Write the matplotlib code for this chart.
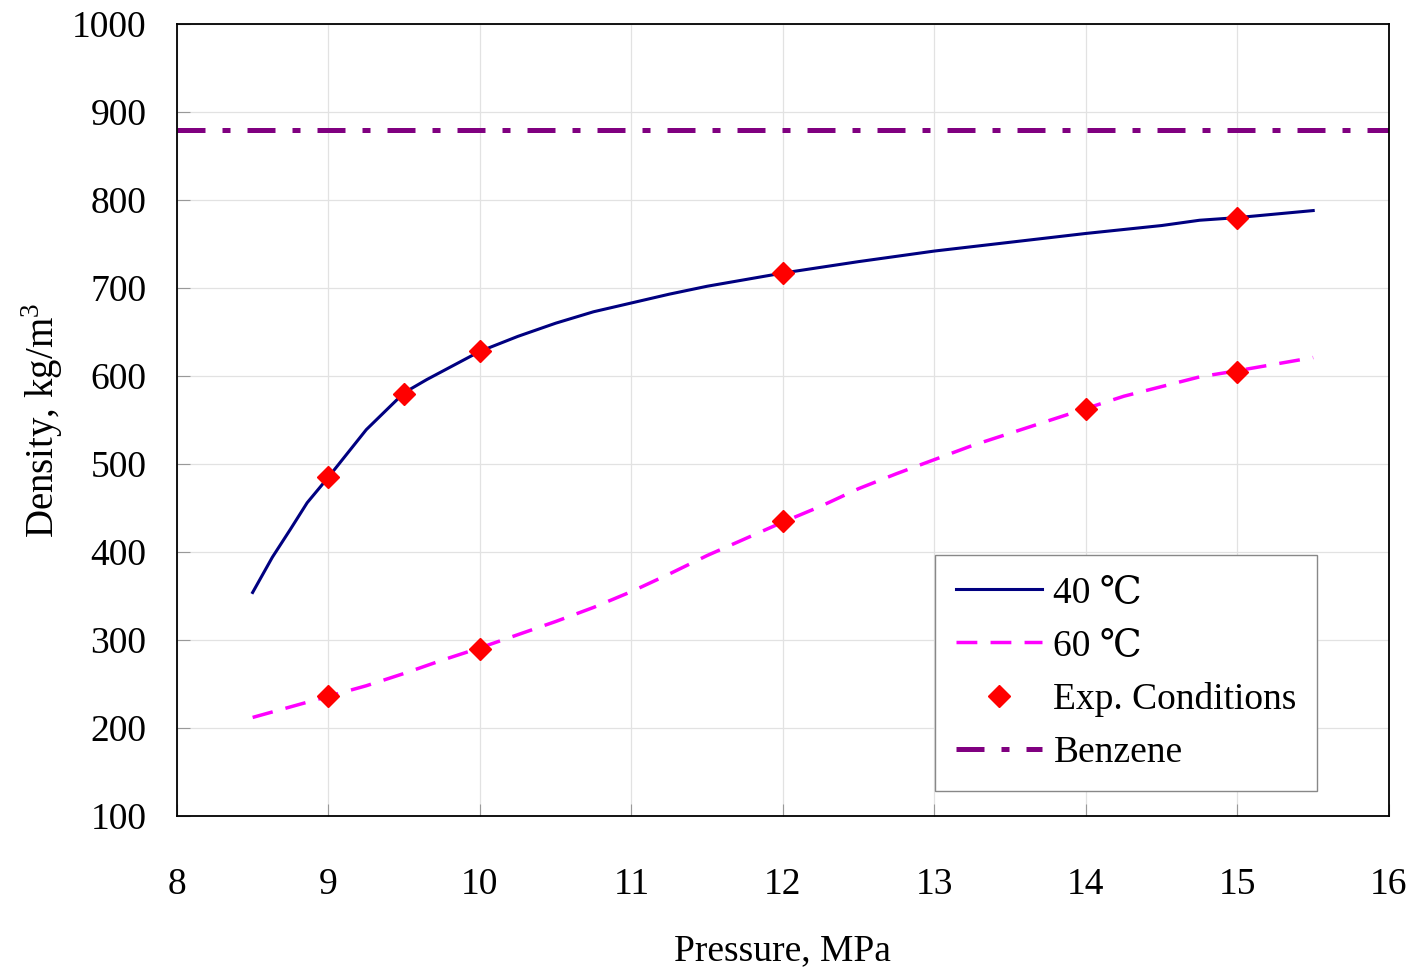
import matplotlib
matplotlib.use('Agg')
import matplotlib.pyplot as plt

# 40 C isotherm
p40 = [8.5, 8.63, 8.75, 8.86, 9.0, 9.25, 9.5, 9.65, 10.0, 10.25, 10.5, 10.75, 11.0, 11.25, 11.5,
       12.0, 12.5, 13.0, 13.5, 14.0, 14.5, 14.75, 15.0, 15.5]
d40 = [354, 394, 426, 456, 485, 539, 581, 596, 628, 645, 660, 673, 683, 693, 702,
       717, 730, 742, 752, 762, 771, 777, 780, 788]

# 60 C isotherm
p60 = [8.5, 9.0, 9.25, 9.5, 9.75, 10.0, 10.25, 10.5, 10.75, 11.0, 11.25, 11.5, 11.75, 12.0,
       12.25, 12.5, 12.75, 13.0, 13.25, 13.5, 13.75, 14.0, 14.25, 14.5, 14.75, 15.0, 15.5]
d60 = [212, 236, 248, 262, 277, 291, 306, 321, 337, 355, 375, 396, 415, 434,
       452, 472, 489, 505, 521, 535, 549, 563, 577, 588, 599, 606, 621]

# experimental conditions
exp_p = [9, 9.5, 10, 12, 15, 9, 10, 12, 14, 15]
exp_d = [485, 580, 628, 717, 780, 236, 290, 435, 562, 604]

benzene = 879

xticks = [8, 9, 10, 11, 12, 13, 14, 15, 16]
yticks = [100, 200, 300, 400, 500, 600, 700, 800, 900, 1000]

plt.rcParams['font.family'] = ['Liberation Serif', 'DejaVu Serif']
plt.rcParams['mathtext.fontset'] = 'custom'
plt.rcParams['mathtext.rm'] = 'Liberation Serif'

fig = plt.figure(figsize=(14.15, 9.72), dpi=100)
ax = fig.add_axes([0.125, 0.1605, 0.8566, 0.8148])

ax.plot(p40, d40, color='#000080', lw=2.2, label='40 ℃')
ax.plot(p60, d60, color='#ff00ff', lw=2.5, dashes=(6, 3.8), label='60 ℃')
ax.plot(exp_p, exp_d, 'D', color='red', ms=11.5, label='Exp. Conditions')
ax.axhline(benzene, color='#800080', lw=3.6, dashes=(5.6, 3.4, 1.6, 3.4), label='Benzene')

ax.set_xlim(8, 16)
ax.set_ylim(100, 1000)
ax.set_xticks(xticks)
ax.set_yticks(yticks)
ax.grid(True, color='#e2e2e2', lw=0.9)
ax.set_axisbelow(True)
ax.tick_params(direction='in', length=9, color='#999999', labelsize=27)
ax.tick_params(axis='y', pad=22)
ax.tick_params(axis='x', pad=37)
for s in ax.spines.values():
    s.set_linewidth(1.3)

ax.set_xlabel('Pressure, MPa', fontsize=27, labelpad=23)
ax.set_ylabel('Density, kg/m$^3$', fontsize=28, labelpad=5)

leg = ax.legend(loc='lower right', bbox_to_anchor=(0.941, 0.0316), borderaxespad=0,
                fontsize=27, frameon=True, fancybox=False, edgecolor='#888888',
                framealpha=1, handlelength=2.3, handletextpad=0.3,
                labelspacing=0.5, borderpad=0.55)
leg.get_frame().set_linewidth(1.0)

fig.savefig('out.png', dpi=100)
